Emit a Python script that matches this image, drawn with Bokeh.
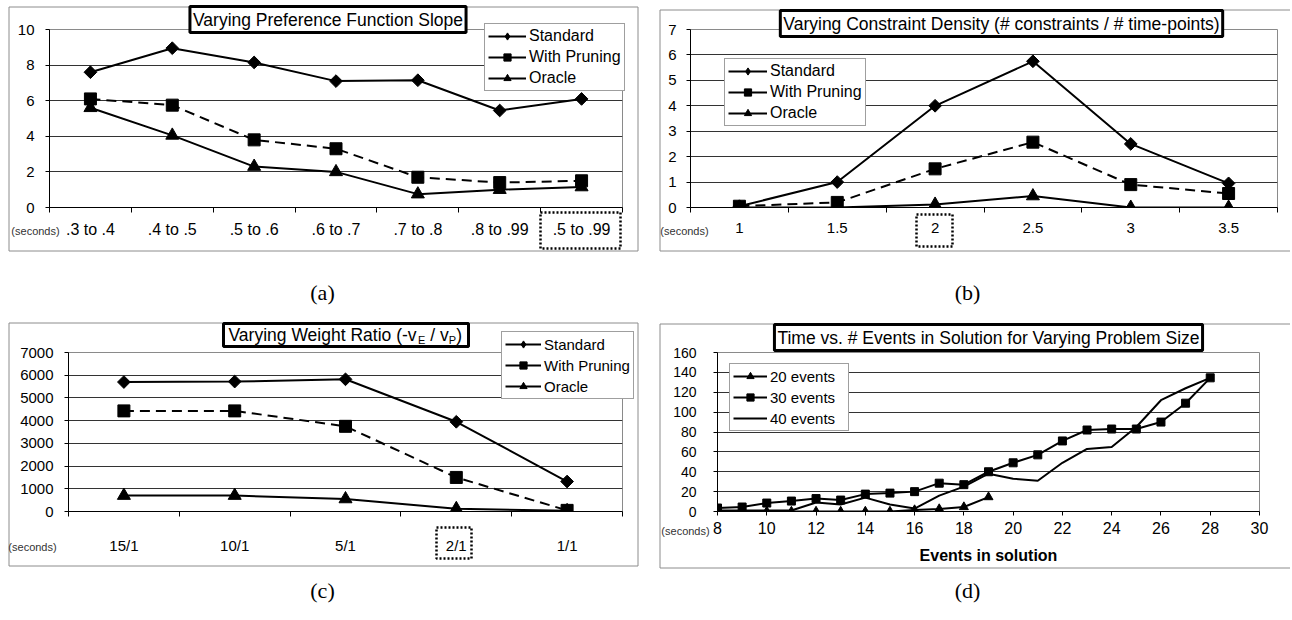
import numpy as np
from bokeh.plotting import figure
from bokeh.models import (Range1d, FixedTicker, Label, BoxAnnotation, Legend, LegendItem,
                          Spacer, GridBox)
from bokeh.layouts import row, column
from bokeh.embed import file_html
from bokeh.resources import INLINE

# ---------------- data ----------------
cats_a = [".3 to .4", ".4 to .5", ".5 to .6", ".6 to .7", ".7 to .8", ".8 to .99", ".5 to .99"]
standard_a = [7.6, 8.95, 8.15, 7.1, 7.15, 5.45, 6.1]
pruning_a = [6.1, 5.75, 3.8, 3.3, 1.7, 1.4, 1.5]
oracle_a = [5.6, 4.05, 2.3, 2.0, 0.75, 1.0, 1.15]
yticks_a = [0, 2, 4, 6, 8, 10]

cats_b = ["1", "1.5", "2", "2.5", "3", "3.5"]
standard_b = [0.05, 1.0, 4.0, 5.75, 2.5, 0.95]
pruning_b = [0.05, 0.2, 1.52, 2.57, 0.9, 0.55]
oracle_b = [0.0, 0.0, 0.12, 0.45, 0.0, 0.0]
yticks_b = [0, 1, 2, 3, 4, 5, 6, 7]

cats_c = ["15/1", "10/1", "5/1", "2/1", "1/1"]
standard_c = [5700, 5720, 5820, 3950, 1320]
pruning_c = [4430, 4430, 3750, 1500, 50]
oracle_c = [700, 700, 550, 120, 30]
yticks_c = [0, 1000, 2000, 3000, 4000, 5000, 6000, 7000]

events20_x = [8, 9, 10, 11, 12, 13, 14, 15, 16, 17, 18, 19]
events20_y = [0, 0, 0, 0, 0, 0, 0, 0, 1.5, 2.5, 4.5, 14.5]
events30_x = [8, 9, 10, 11, 12, 13, 14, 15, 16, 17, 18, 19, 20, 21, 22, 23, 24, 25, 26, 27, 28]
events30_y = [3.5, 4.5, 8.5, 10.5, 13, 11.5, 17.5, 18.5, 20, 28.5, 27, 40, 49, 57, 71, 82, 83, 83, 90, 109, 134.5]
events40_x = [8, 9, 10, 11, 12, 13, 14, 15, 16, 17, 18, 19, 20, 21, 22, 23, 24, 25, 26, 27, 28]
events40_y = [1, 1, 1, 1, 9, 7, 14, 7, 3, 16, 25, 38, 33, 31, 49, 63, 65, 85, 112, 124, 134.5]
xticks_d = [8, 10, 12, 14, 16, 18, 20, 22, 24, 26, 28, 30]
yticks_d = [0, 20, 40, 60, 80, 100, 120, 140, 160]

series_names = ["Standard", "With Pruning", "Oracle"]
events_names = ["20 events", "30 events", "40 events"]

FONT = "Liberation Sans"
LW = 2
DASH = "10 6"
W, H = 1290, 618


def base_fig(w, h, lb, rb, tb, bb, xr, yr, yticks, yfs, ystand):
    p = figure(width=w, height=h, x_range=Range1d(*xr), y_range=Range1d(*yr),
               output_backend="svg", toolbar_location=None,
               min_border_left=lb, min_border_right=rb, min_border_top=tb, min_border_bottom=bb)
    p.background_fill_color = "white"
    p.border_fill_color = "white"
    p.outline_line_color = "#8a8a8a"
    p.xgrid.visible = False
    p.ygrid.grid_line_color = "#333333"
    p.ygrid.grid_line_width = 1
    for ax in (p.xaxis[0], p.yaxis[0]):
        ax.axis_line_color = "black"
        ax.major_tick_line_color = "black"
        ax.minor_tick_line_color = None
        ax.major_label_text_font = FONT
        ax.major_label_text_color = "black"
        ax.major_tick_in = 0
        ax.major_tick_out = 4
    p.yaxis[0].ticker = FixedTicker(ticks=yticks)
    p.yaxis[0].major_label_text_font_size = yfs
    p.yaxis[0].major_label_standoff = ystand
    return p


def cat_axis(p, cats, fs, standoff):
    n = len(cats)
    centers = [i + 0.5 for i in range(n)]
    ax = p.xaxis[0]
    ax.ticker = FixedTicker(ticks=centers, minor_ticks=list(range(n + 1)))
    ax.major_label_overrides = {c: t for c, t in zip(centers, cats)}
    ax.major_tick_out = 0
    ax.minor_tick_line_color = "black"
    ax.minor_tick_out = 5
    ax.minor_tick_in = 0
    ax.major_label_text_font_size = fs
    ax.major_label_standoff = standoff
    return centers


def three_series(p, x, std, prun, orac):
    p.line(x, std, line_color="black", line_width=LW)
    p.scatter(x, std, marker="square", angle=np.pi / 4, size=9, color="black")
    p.line(x, prun, line_color="black", line_width=LW, line_dash=DASH)
    p.scatter(x, prun, marker="square", size=12, color="black")
    p.line(x, orac, line_color="black", line_width=LW)
    p.scatter(x, orac, marker="triangle", size=13, color="black")


# ---------------- overlay (titles, legends, frames, captions) ----------------
ov = figure(width=W, height=H, x_range=Range1d(0, W), y_range=Range1d(H, 0),
            output_backend="svg", toolbar_location=None, min_border=0,
            x_axis_location=None, y_axis_location=None)
ov.grid.visible = False
ov.outline_line_color = None
ov.background_fill_color = None
ov.border_fill_color = None

NAN = np.array([np.nan])


def proxy_line(dash="solid"):
    return ov.line(x=NAN, y=NAN, line_color="black", line_width=LW, line_dash=dash)


def proxy_marker(marker):
    return ov.scatter(x=NAN, y=NAN, marker=marker, size=8, color="black")


def add_legend(items, loc, fs, gw, label_width=20):
    lg = Legend(items=items, location=loc, orientation="vertical")
    lg.label_text_font = FONT
    lg.label_text_font_size = fs
    lg.label_text_color = "black"
    lg.glyph_width = gw
    lg.glyph_height = 18
    lg.label_height = 18
    lg.label_width = label_width
    lg.spacing = 3
    lg.padding = 3
    lg.margin = 0
    lg.label_standoff = 3
    lg.border_line_color = "#404040"
    lg.border_line_width = 1
    lg.background_fill_color = "white"
    lg.background_fill_alpha = 1
    ov.add_layout(lg)


def three_legend(loc, fs, gw):
    items = [LegendItem(label=series_names[0], renderers=[proxy_line(), proxy_marker("diamond")]),
             LegendItem(label=series_names[1], renderers=[proxy_line(), proxy_marker("square")]),
             LegendItem(label=series_names[2], renderers=[proxy_line(), proxy_marker("triangle")])]
    add_legend(items, loc, fs, gw)


def frame_box(l, r, t, b):
    ov.add_layout(BoxAnnotation(left=l, right=r, top=t, bottom=b, fill_color=None,
                                line_color="#8c8c8c", line_alpha=1, line_width=1))


def title_label(x, y, text):
    ov.add_layout(Label(x=x, y=y, text=text, text_font=FONT, text_font_size="17.5px",
                        text_align="center", text_baseline="middle", text_color="black",
                        border_line_color="black", border_line_width=3,
                        background_fill_color="white", padding=3))


def seconds_label(x, y):
    ov.add_layout(Label(x=x, y=y, text="(seconds)", text_font=FONT, text_font_size="11px",
                        text_align="center", text_baseline="middle", text_color="#333333"))


def dotted_box(l, r, t, b):
    ov.add_layout(BoxAnnotation(left=l, right=r, top=t, bottom=b, fill_color=None,
                                line_color="black", line_alpha=1, line_width=2.5,
                                line_dash="2 2"))


def caption(x, y, text):
    ov.add_layout(Label(x=x, y=y, text=text, text_font="Liberation Serif",
                        text_font_size="22px", text_align="center", text_baseline="middle",
                        text_color="black"))


# outer chart frames
frame_box(8.5, 637.5, 6.5, 250.5)
frame_box(659.5, 1300, 9.5, 250.5)
frame_box(8.5, 637.5, 322.5, 565.5)
frame_box(659.5, 1300, 323.5, 567.5)

# ---------------- panel (a) ----------------
pa = base_fig(645, 250, 49, 23, 28, 43, (0, len(cats_a)), (0, 10), yticks_a, "15px", 11)
xa = cat_axis(pa, cats_a, "16px", 8)
three_series(pa, xa, standard_a, pruning_a, oracle_a)

# ---------------- panel (b) ----------------
pb = base_fig(645, 250, 45, 13, 29, 43, (0, len(cats_b)), (0, 7), yticks_b, "15px", 10)
xb = cat_axis(pb, cats_b, "15px", 10)
three_series(pb, xb, standard_b, pruning_b, oracle_b)

# ---------------- panel (c) ----------------
pc = base_fig(645, 245, 68, 23, 21, 46, (0, len(cats_c)), (0, 7000), yticks_c, "15px", 11)
xc = cat_axis(pc, cats_c, "15px", 20)
three_series(pc, xc, standard_c, pruning_c, oracle_c)

# ---------------- panel (d) ----------------
pd_ = base_fig(645, 245, 72, 31, 30, 56, (8, 30), (0, 160), yticks_d, "14px", 17)
axd = pd_.xaxis[0]
axd.ticker = FixedTicker(ticks=xticks_d)
axd.major_label_text_font_size = "16px"
axd.major_label_standoff = 6
axd.axis_label = "Events in solution"
axd.axis_label_text_font = FONT
axd.axis_label_text_font_size = "16px"
axd.axis_label_text_font_style = "bold"
axd.axis_label_text_color = "black"
axd.axis_label_standoff = 10
pd_.line(events20_x, events20_y, line_color="black", line_width=LW)
pd_.scatter(events20_x, events20_y, marker="triangle", size=9, color="black")
pd_.line(events30_x, events30_y, line_color="black", line_width=LW)
pd_.scatter(events30_x, events30_y, marker="square", size=8, color="black")
pd_.line(events40_x, events40_y, line_color="black", line_width=LW)

# ---------------- overlay decorations ----------------
three_legend((484, 527), "16px", 38)
three_legend((724, 492), "16px", 39)
three_legend((501, 219), "15px", 36)
add_legend([LegendItem(label=events_names[0], renderers=[proxy_line(), proxy_marker("triangle")]),
            LegendItem(label=events_names[1], renderers=[proxy_line(), proxy_marker("square")]),
            LegendItem(label=events_names[2], renderers=[proxy_line()])],
           (729, 187), "15px", 34, label_width=75)

title_label(327.5, 19, "Varying Preference Function Slope")
title_label(1001, 23, "Varying Constraint Density (# constraints / # time-points)")
title_label(988, 337, "Time vs. # Events in Solution for Varying Problem Size")
ov.add_layout(BoxAnnotation(left=223, right=468, top=323, bottom=346, fill_color="white",
                            fill_alpha=1, line_color="black", line_alpha=1, line_width=3))
for txt, fs, yy, off in [("Varying Weight Ratio (-v", "17.5px", 334, 0),
                         ("E", "11px", 339.5, 189.6),
                         ("/", "17.5px", 334, 201.8),
                         ("v", "17.5px", 334, 211.5),
                         ("P", "11px", 339.5, 220.2),
                         (")", "17.5px", 334, 227.8)]:
    ov.add_layout(Label(x=228, y=yy, x_offset=off, text=txt, text_font=FONT, text_font_size=fs,
                        text_align="left", text_baseline="middle", text_color="black"))

dotted_box(540, 620, 212, 248)
dotted_box(916, 952, 214, 246)
dotted_box(436, 471, 527, 558)

seconds_label(35, 230)
seconds_label(684, 230)
seconds_label(32, 546)
seconds_label(685, 530)

caption(322, 292, "(a)")
caption(967, 292, "(b)")
caption(322, 590, "(c)")
caption(967, 590, "(d)")

# ---------------- layout ----------------
charts = column(
    row(pa, pb),
    Spacer(width=W, height=72),
    row(pc, pd_),
    Spacer(width=W, height=51),
)
page = GridBox(children=[(charts, 0, 0), (ov, 0, 0)])

open("out.html", "w").write(file_html(page, INLINE))
